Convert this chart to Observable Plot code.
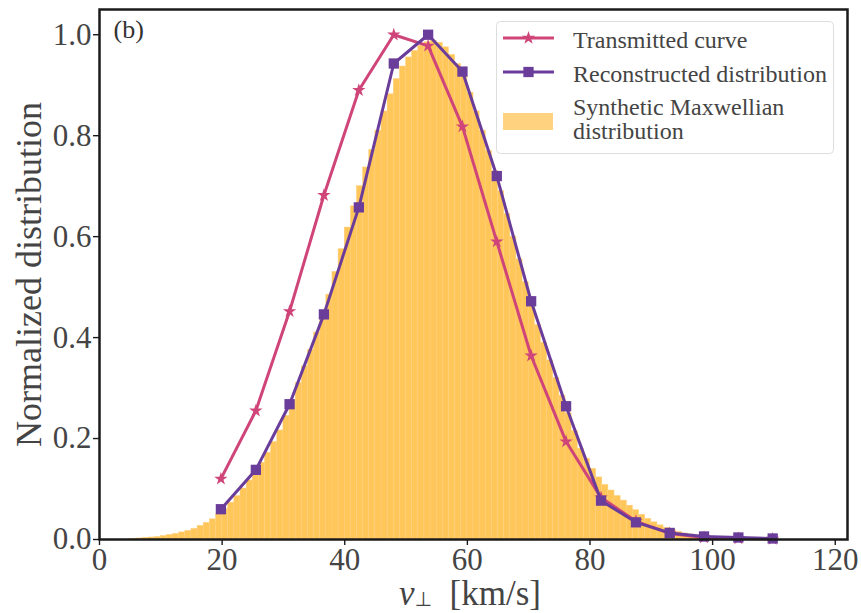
<!DOCTYPE html>
<html><head><meta charset="utf-8">
<script src="https://cdn.jsdelivr.net/npm/d3@7"></script>
<script src="https://cdn.jsdelivr.net/npm/@observablehq/plot@0.6"></script>
<style>
html,body{margin:0;padding:0;background:#fff;}
#wrap{position:relative;width:861px;height:613px;}
</style></head><body><div id="wrap"></div>
<script>
// ---- data ----
const pointSpeeds = [19.8, 25.5, 31.0, 36.6, 42.3, 48.0, 53.6, 59.2, 64.8, 70.4, 76.1, 81.8, 87.5, 93.0, 98.6, 104.2, 109.8];
const transmitted = [0.120, 0.255, 0.452, 0.682, 0.890, 1.000, 0.978, 0.818, 0.590, 0.364, 0.194, 0.083, 0.036, 0.012, 0.004, 0.002, 0.001];
const reconstructed = [0.060, 0.138, 0.268, 0.446, 0.658, 0.943, 1.000, 0.927, 0.720, 0.472, 0.264, 0.077, 0.034, 0.013, 0.006, 0.004, 0.002];

const histBinStart = [5,6,7,8,9,10,11,12,13,14,15,16,17,18,19,20,21,22,23,24,25,26,27,28,29,30,31,32,33,34,35,36,37,38,39,40,41,42,43,44,45,46,47,48,49,50,51,52,53,54,55,56,57,58,59,60,61,62,63,64,65,66,67,68,69,70,71,72,73,74,75,76,77,78,79,80,81,82,83,84,85,86,87,88,89,90,91,92,93,94,95,96,97,98,99,100,101,102,103,104,105,106,107,108,109];
const histValues = [0.001,0.002,0.003,0.004,0.005,0.007,0.009,0.011,0.014,0.017,0.021,0.027,0.033,0.040,0.050,0.060,0.073,0.086,0.101,0.117,0.134,0.152,0.172,0.193,0.216,0.245,0.276,0.310,0.343,0.376,0.410,0.445,0.485,0.530,0.575,0.618,0.660,0.700,0.737,0.772,0.810,0.848,0.882,0.912,0.937,0.955,0.968,0.978,0.985,0.988,0.984,0.975,0.960,0.942,0.920,0.885,0.848,0.810,0.770,0.730,0.690,0.645,0.600,0.555,0.510,0.465,0.425,0.390,0.355,0.320,0.285,0.250,0.215,0.180,0.160,0.140,0.123,0.108,0.097,0.086,0.077,0.067,0.058,0.049,0.041,0.034,0.028,0.023,0.019,0.015,0.012,0.010,0.008,0.006,0.005,0.004,0.003,0.003,0.002,0.002,0.002,0.001,0.001,0.001,0.001];
const histBinWidth = 1;

const xTicks = [0, 20, 40, 60, 80, 100, 120];
const yTicks = [0.0, 0.2, 0.4, 0.6, 0.8, 1.0];
const seriesNames = ["Transmitted curve", "Reconstructed distribution", "Synthetic Maxwellian distribution"];
const xLabelParts = ["v", "⊥", "[km/s]"];
const yLabel = "Normalized distribution";
const panelTag = "(b)";

// ---- styles ----
const pink = "#cf4479";
const purple = "#6a3d9a";
const histFill = "#ffc65a";
const histEdge = "#ffcf7c";
const legendPatch = "#ffd27f";
const textColor = "#444";
const font = "Liberation Serif, Times New Roman, serif";

const hist = histBinStart.map((s, i) => ({x1: s, x2: s + histBinWidth, v: histValues[i]}));
const tr = pointSpeeds.map((s, i) => ({s, f: transmitted[i]}));
const rc = pointSpeeds.map((s, i) => ({s, f: reconstructed[i]}));

const starR = 4.2, squareR = 5.8;

const chart = Plot.plot({
  width: 861, height: 613,
  marginLeft: 99, marginRight: 14, marginTop: 9, marginBottom: 74,
  style: {fontFamily: font, background: "white", overflow: "visible"},
  x: {domain: [0, 122], label: null},
  y: {domain: [0, 1.05], label: null},
  marks: [
    Plot.rectY(hist, {x1: "x1", x2: "x2", y: "v", fill: histFill, stroke: histEdge, strokeWidth: 0.5}),
    Plot.line(tr, {x: "s", y: "f", stroke: pink, strokeWidth: 3}),
    Plot.dot(tr, {x: "s", y: "f", symbol: "star", r: starR, fill: pink, stroke: "none"}),
    Plot.line(rc, {x: "s", y: "f", stroke: purple, strokeWidth: 3}),
    Plot.dot(rc, {x: "s", y: "f", symbol: "square", r: squareR, fill: purple, stroke: "none"}),
    Plot.frame({stroke: "#1a1a1a", strokeWidth: 2.5}),
    Plot.axisX({ticks: xTicks, tickSize: 6, tickPadding: 2, fontSize: 31, fontFamily: font, fill: textColor, stroke: "#1a1a1a", strokeWidth: 1.4, tickFormat: d => String(d), label: null}),
    Plot.axisY({ticks: yTicks, tickSize: 6, tickPadding: 2, fontSize: 31, fontFamily: font, fill: textColor, stroke: "#1a1a1a", strokeWidth: 1.4, tickFormat: d => d.toFixed(1), label: null}),
    Plot.text([yLabel], {frameAnchor: "left", textAnchor: "middle", rotate: -90, dx: -70, fontSize: 36, fontFamily: font, fill: textColor}),
    Plot.text([panelTag], {frameAnchor: "top-left", dx: 14, dy: 10, lineAnchor: "top", textAnchor: "start", fontSize: 26, fontFamily: font, fill: "#333"})
  ]
});
document.getElementById("wrap").appendChild(chart);

// ---- x label with italic v and subscript ⊥ ----
const xs = chart.scale("x");
const svg = d3.select(chart);
const xl = svg.append("text")
  .attr("x", (xs.range[0] + xs.range[1]) / 2 - 3)
  .attr("y", 605)
  .attr("text-anchor", "middle")
  .attr("fill", textColor)
  .attr("font-family", font)
  .attr("font-size", 35);
xl.append("tspan").attr("font-style", "italic").text(xLabelParts[0]);
xl.append("tspan").attr("dy", 1).attr("font-size", 20).attr("font-family", "DejaVu Sans, sans-serif").text(xLabelParts[1]);
xl.append("tspan").attr("dy", -1).text("\u00a0\u00a0" + xLabelParts[2]);

// ---- legend ----
const lg = svg.append("g").attr("font-family", font).attr("font-size", 24).attr("fill", textColor).attr("text-anchor", "start");
lg.append("rect").attr("x", 496.5).attr("y", 21.5).attr("width", 337).attr("height", 132)
  .attr("rx", 4).attr("fill", "rgba(255,255,255,0.85)").attr("stroke", "#dddddd");
const rows = [
  {name: seriesNames[0], color: pink, sym: d3.symbolStar, r: starR, cy: 38},
  {name: seriesNames[1], color: purple, sym: d3.symbolSquare, r: squareR, cy: 72}
];
rows.forEach(row => {
  lg.append("line").attr("x1", 503).attr("x2", 554).attr("y1", row.cy).attr("y2", row.cy)
    .attr("stroke", row.color).attr("stroke-width", 3);
  lg.append("path").attr("transform", `translate(528.5,${row.cy})`)
    .attr("d", d3.symbol(row.sym, Math.PI * row.r * row.r)()).attr("fill", row.color);
  lg.append("text").attr("x", 573).attr("y", row.cy + 9.5).text(row.name);
});
lg.append("rect").attr("x", 503).attr("y", 113).attr("width", 50).attr("height", 17).attr("fill", legendPatch);
const words = seriesNames[2].split(" ");
lg.append("text").attr("x", 573).attr("y", 115).text(words.slice(0, 2).join(" "));
lg.append("text").attr("x", 573).attr("y", 139).text(words.slice(2).join(" "));
</script>
</body></html>
